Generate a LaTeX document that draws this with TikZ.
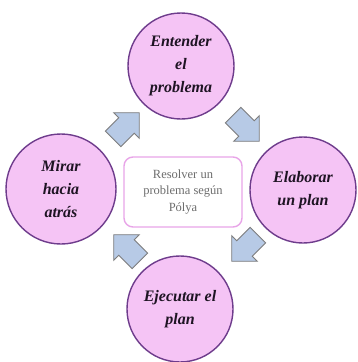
\documentclass[tikz,border=0pt]{standalone}
\usepackage{fontspec}
\setmainfont{Liberation Serif}
\definecolor{circfill}{RGB}{245,196,245}
\definecolor{circdraw}{RGB}{110,60,140}
\definecolor{boxdraw}{RGB}{232,165,232}
\definecolor{arrfill}{RGB}{183,202,230}
\definecolor{arrdraw}{RGB}{125,125,125}
\definecolor{boxtext}{RGB}{110,110,110}
\definecolor{stagetext}{RGB}{30,20,35}
\tikzset{
  stage/.style={circle, draw=circdraw, line width=1.4pt, fill=circfill,
    minimum size=106pt, inner sep=0pt, align=center, text=stagetext,
    font=\bfseries\itshape\fontsize{16}{23}\selectfont},
  centerbox/.style={draw=boxdraw, line width=1.4pt, fill=white, rounded corners=9pt,
    minimum width=118pt, minimum height=70pt, align=center, text=boxtext,
    font=\fontsize{12.5}{16.5}\selectfont},
  blockarrow/.style={fill=arrfill, draw=arrdraw, line width=0.9pt, line join=miter},
  pics/flow/.style={code={
    \path[blockarrow] (23,0) -- (5,18) -- (5,11) -- (-14,11) -- (-14,-11) -- (5,-11) -- (5,-18) -- cycle;
  }}
}
\begin{document}
\begin{tikzpicture}[x=1pt,y=-1pt]
\useasboundingbox (0,0) rectangle (358,362);
\fill[white] (0,0) rectangle (358,362);
\node[stage] (top) at (181,66) {Entender\\el\\problema};
\node[stage] (right) at (303,190) {Elaborar\\un plan};
\node[stage] (bottom) at (180,309) {Ejecutar el\\plan};
\node[stage, minimum size=110pt] (left) at (61,189) {Mirar\\hacia\\atrás};
\node[centerbox] (c) at (183,192) {Resolver un\\problema según\\Pólya};
\pic[rotate=45] (a1) at (123,129) {flow};
\pic[rotate=-45] (a2) at (243,125) {flow};
\pic[rotate=-135] (a3) at (248,245) {flow};
\pic[rotate=135] (a4) at (130,251) {flow};
\end{tikzpicture}
\end{document}
